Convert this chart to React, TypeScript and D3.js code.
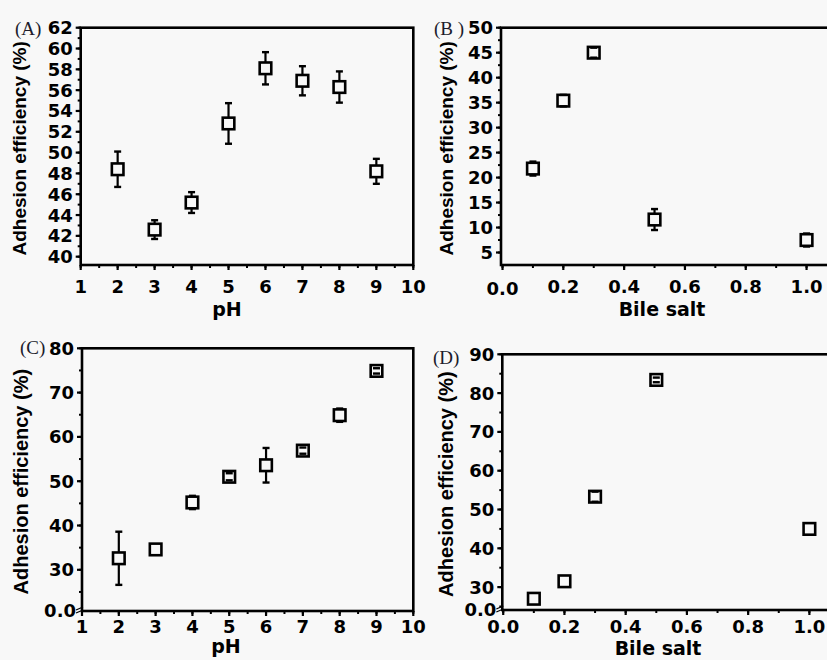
import React from "react";
import * as d3 from "d3";

// values
const phLevels = [2, 3, 4, 5, 6, 7, 8, 9];
const bileSalt = [0.1, 0.2, 0.3, 0.5, 1.0];

const adhesionA = [48.4, 42.6, 45.2, 52.8, 58.1, 56.9, 56.3, 48.2];
const errorA = [1.7, 0.9, 1.0, 1.95, 1.55, 1.4, 1.5, 1.2];

const adhesionB = [21.8, 35.4, 45.0, 11.6, 7.5];
const errorB = [1.4, 1.15, 1.0, 2.1, 1.3];

const adhesionC = [32.6, 34.6, 45.2, 51.0, 53.6, 56.9, 64.9, 74.9];
const errorC = [6.0, 0, 1.5, 0.8, 3.9, 0.7, 1.5, 0.6];

const adhesionD = [27.0, 31.5, 53.3, 83.4, 45.0];
const errorD = [0, 0, 1.3, 0.6, 0];

const phTicks = [1, 2, 3, 4, 5, 6, 7, 8, 9, 10];
const bileTicks = [0, 0.2, 0.4, 0.6, 0.8, 1.0];
const yTicksA = [40, 42, 44, 46, 48, 50, 52, 54, 56, 58, 60, 62];
const yTicksB = [5, 10, 15, 20, 25, 30, 35, 40, 45, 50];
const yTicksC = [30, 40, 50, 60, 70, 80];
const yTicksD = [30, 40, 50, 60, 70, 80, 90];

const BG = "#f8f8f8";
const SANS = "'Liberation Sans', Arial, sans-serif";
const WIDE = "'DejaVu Sans', Verdana, sans-serif";
const SERIF = "'Liberation Serif', 'Times New Roman', serif";

type PanelProps = {
  tag: string;
  tagPos: [number, number];
  left: number; right: number; top: number; bottom: number;
  xDomain: [number, number];
  yDomain: [number, number];
  xTicks: number[];
  xMinorStep: number;
  xFormat: (d: number) => string;
  xLabelOffset: number;
  yTicks: number[];
  yMinorStep: number;
  xs: number[];
  ys: number[];
  errs: number[];
  xTitle: string;
  xTitlePos: [number, number];
  yTitleX: number;
  yTitleSize: number;
  brokenAxis?: boolean;
};

const Panel = (p: PanelProps) => {
  const x = d3.scaleLinear().domain(p.xDomain).range([p.left, p.right]);
  const y = d3.scaleLinear().domain(p.yDomain).range([p.bottom, p.top]);

  const xMinor = d3.range(p.xTicks[0], p.xDomain[1] + 1e-9, p.xMinorStep)
    .filter(v => x(v) <= p.right + 0.5);
  const yStart = p.yTicks[0] - Math.floor((p.yTicks[0] - p.yDomain[0]) / p.yMinorStep) * p.yMinorStep;
  const yMinor = d3.range(yStart, p.yDomain[1] + 1e-9, p.yMinorStep)
    .filter(v => y(v) <= p.bottom - 2);

  const half = 5.8;
  const cap = 3.5;

  return (
    <g>
      <text x={p.tagPos[0]} y={p.tagPos[1]} fontFamily={SERIF} fontSize={19} fill="#1c1c2c">{p.tag}</text>

      {/* minor ticks */}
      {xMinor.map((v, i) => (
        <line key={"xm" + i} x1={x(v)} x2={x(v)} y1={p.bottom} y2={p.bottom + 3} stroke="#000" strokeWidth={2} />
      ))}
      {yMinor.map((v, i) => (
        <line key={"ym" + i} x1={p.left - 3} x2={p.left} y1={y(v)} y2={y(v)} stroke="#000" strokeWidth={2} />
      ))}

      {/* major ticks + labels */}
      {p.xTicks.map((v, i) => (
        <g key={"xt" + i}>
          <line x1={x(v)} x2={x(v)} y1={p.bottom} y2={p.bottom + 5} stroke="#000" strokeWidth={2.2} />
          <text x={x(v)} y={p.bottom + p.xLabelOffset + (p.tag.startsWith("(B") && v === 0 ? 2 : 0)}
            textAnchor="middle" fontFamily={WIDE} fontWeight="bold" fontSize={18}>{p.xFormat(v)}</text>
        </g>
      ))}
      {p.yTicks.map((v, i) => (
        <g key={"yt" + i}>
          <line x1={p.left - 5} x2={p.left} y1={y(v)} y2={y(v)} stroke="#000" strokeWidth={2.2} />
          <text x={p.left - 8} y={y(v)} dy="0.36em" textAnchor="end"
            fontFamily={WIDE} fontWeight="bold" fontSize={18}>{v}</text>
        </g>
      ))}
      {p.brokenAxis && (
        <g>
          <text x={p.left - 6} y={p.bottom} dy="0.36em" textAnchor="end"
            fontFamily={WIDE} fontWeight="bold" fontSize={18}>0.0</text>
          <line x1={p.left - 6} x2={p.left + 1} y1={p.bottom - 1} y2={p.bottom - 4} stroke="#000" strokeWidth={1.3} />
          <line x1={p.left - 6} x2={p.left + 1} y1={p.bottom + 2} y2={p.bottom - 1} stroke="#000" strokeWidth={1.3} />
        </g>
      )}

      {/* frame */}
      <rect x={p.left} y={p.top} width={p.right - p.left} height={p.bottom - p.top}
        fill="none" stroke="#000" strokeWidth={2.6} />

      {/* titles */}
      <text x={p.xTitlePos[0]} y={p.xTitlePos[1]} textAnchor="middle"
        fontFamily={WIDE} fontWeight="bold" fontSize={19}>{p.xTitle}</text>
      <text transform={`translate(${p.yTitleX},${(p.top + p.bottom) / 2 + 2}) rotate(-90)`}
        textAnchor="middle" fontFamily={SANS} fontWeight="bold" fontSize={p.yTitleSize}>
        Adhesion efficiency (%)
      </text>

      {/* points with error bars */}
      {p.xs.map((xv, i) => {
        const cx = x(xv);
        const cy = y(p.ys[i]);
        const yt = y(p.ys[i] + p.errs[i]);
        const yb = y(p.ys[i] - p.errs[i]);
        return (
          <g key={"pt" + i}>
            <rect x={cx - half} y={cy - half} width={half * 2} height={half * 2}
              fill={BG} stroke="#000" strokeWidth={2.6} />
            {yt < cy - half && (
              <line x1={cx} x2={cx} y1={yt} y2={cy - half} stroke="#000" strokeWidth={2.2} />
            )}
            {yb > cy + half && (
              <line x1={cx} x2={cx} y1={cy + half} y2={yb} stroke="#000" strokeWidth={2.2} />
            )}
            {p.errs[i] > 0 && (
              <g>
                <line x1={cx - cap} x2={cx + cap} y1={yt} y2={yt} stroke="#000" strokeWidth={2.4} />
                <line x1={cx - cap} x2={cx + cap} y1={yb} y2={yb} stroke="#000" strokeWidth={2.4} />
              </g>
            )}
          </g>
        );
      })}
    </g>
  );
};

const fmtInt = (d: number) => String(d);
const fmt1 = d3.format(".1f");

export default function App() {
  return (
    <svg width={827} height={660} style={{ position: "absolute", left: 0, top: 0, background: BG }}>
      <rect width={827} height={660} fill={BG} />
      <Panel tag="(A)" tagPos={[15, 35]}
        left={80.7} right={413.3} top={27.7} bottom={265}
        xDomain={[1, 10]} yDomain={[39.2, 62]}
        xTicks={phTicks} xMinorStep={0.5} xFormat={fmtInt} xLabelOffset={28}
        yTicks={yTicksA} yMinorStep={1}
        xs={phLevels} ys={adhesionA} errs={errorA}
        xTitle="pH" xTitlePos={[227, 316]} yTitleX={26} yTitleSize={19} />
      <Panel tag="(B )" tagPos={[434, 35]}
        left={501} right={840} top={27.7} bottom={265}
        xDomain={[-0.005, 1.11]} yDomain={[2.5, 50]}
        xTicks={bileTicks} xMinorStep={0.1} xFormat={fmt1} xLabelOffset={28}
        yTicks={yTicksB} yMinorStep={2.5}
        xs={bileSalt} ys={adhesionB} errs={errorB}
        xTitle="Bile salt" xTitlePos={[662, 316]} yTitleX={452.5} yTitleSize={19} />
      <Panel tag="(C)" tagPos={[20, 354]}
        left={82} right={413.3} top={348.3} bottom={611}
        xDomain={[1, 10]} yDomain={[20.7, 80]}
        xTicks={phTicks} xMinorStep={0.5} xFormat={fmtInt} xLabelOffset={22}
        yTicks={yTicksC} yMinorStep={5}
        xs={phLevels} ys={adhesionC} errs={errorC}
        xTitle="pH" xTitlePos={[226, 653]} yTitleX={28} yTitleSize={20} brokenAxis />
      <Panel tag="(D)" tagPos={[433, 364]}
        left={502.3} right={840} top={354.3} bottom={610}
        xDomain={[-0.003, 1.1]} yDomain={[24.1, 90]}
        xTicks={bileTicks} xMinorStep={0.1} xFormat={fmt1} xLabelOffset={23}
        yTicks={yTicksD} yMinorStep={5}
        xs={bileSalt} ys={adhesionD} errs={errorD}
        xTitle="Bile salt" xTitlePos={[658, 655]} yTitleX={452.5} yTitleSize={20} brokenAxis />
    </svg>
  );
}
